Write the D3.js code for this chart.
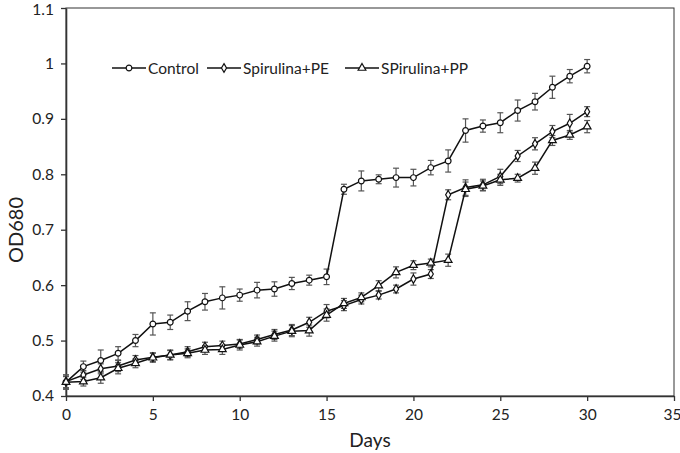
<!DOCTYPE html>
<html><head><meta charset="utf-8">
<script src="https://cdn.jsdelivr.net/npm/d3@7"></script>
<style>body{margin:0;background:#fff;} svg{display:block;}</style>
</head><body>
<svg id="c" width="680" height="453"></svg>
<script>
const days = d3.range(0, 31);
const seriesNames = ["Control", "Spirulina+PE", "SPirulina+PP"];
const control = [0.425,0.453,0.464,0.477,0.500,0.530,0.533,0.553,0.570,0.577,0.582,0.591,0.593,0.603,0.609,0.615,0.773,0.788,0.791,0.794,0.794,0.812,0.824,0.879,0.887,0.893,0.915,0.931,0.957,0.977,0.995];
const controlErr = [0.010,0.010,0.019,0.012,0.011,0.020,0.013,0.017,0.015,0.020,0.011,0.014,0.013,0.011,0.009,0.014,0.009,0.018,0.008,0.017,0.015,0.013,0.020,0.021,0.011,0.018,0.019,0.015,0.020,0.012,0.012];
const pe = [0.426,0.438,0.449,0.454,0.465,0.470,0.474,0.480,0.489,0.491,0.494,0.502,0.511,0.519,0.533,0.553,0.563,0.574,0.582,0.593,0.611,0.620,0.763,0.776,0.781,0.796,0.833,0.855,0.877,0.892,0.913];
const peErr = [0.012,0.008,0.009,0.010,0.008,0.008,0.009,0.009,0.008,0.008,0.008,0.008,0.009,0.010,0.009,0.012,0.009,0.008,0.007,0.007,0.011,0.008,0.009,0.014,0.010,0.013,0.010,0.011,0.011,0.016,0.009];
const pp = [0.425,0.426,0.433,0.450,0.459,0.469,0.474,0.477,0.483,0.484,0.492,0.498,0.508,0.517,0.518,0.546,0.567,0.578,0.599,0.623,0.636,0.640,0.645,0.773,0.779,0.790,0.793,0.811,0.861,0.871,0.886];
const ppErr = [0.013,0.008,0.010,0.010,0.008,0.008,0.008,0.008,0.008,0.009,0.009,0.008,0.009,0.010,0.010,0.011,0.009,0.008,0.009,0.010,0.008,0.007,0.011,0.013,0.009,0.010,0.007,0.011,0.009,0.008,0.011];
const xTicks = [0,5,10,15,20,25,30,35];
const yTicks = [0.4,0.5,0.6,0.7,0.8,0.9,1,1.1];
const markers = ["circle", "diamond", "triangle"];

const FONT = "Lato, 'Open Sans', sans-serif";
const svg = d3.select("#c");
const L = 66, R = 674, T = 8, B = 396;
const x = d3.scaleLinear().domain([0,35]).range([L,R]);
const y = d3.scaleLinear().domain([0.4,1.1]).range([B,T]);

// frame
svg.append("rect").attr("x",L).attr("y",T).attr("width",R-L).attr("height",B-T)
  .attr("fill","none").attr("stroke","#333").attr("stroke-width",1);

const xAxis = svg.append("g").attr("transform",`translate(0,${B})`)
  .call(d3.axisBottom(x).tickValues(xTicks).tickFormat(d3.format("d")).tickSize(5).tickSizeOuter(0));
const yAxis = svg.append("g").attr("transform",`translate(${L},0)`)
  .call(d3.axisLeft(y).tickValues(yTicks).tickFormat(d=>String(+d.toFixed(1))).tickSize(5).tickSizeOuter(0));
[xAxis,yAxis].forEach(g=>{
  g.select(".domain").attr("stroke","#333").attr("stroke-width",1.6);
  g.selectAll(".tick line").attr("stroke","#333").attr("stroke-width",1.3);
  g.selectAll("text").attr("font-family",FONT).attr("font-size",15.5).attr("fill","#222");
});
xAxis.selectAll("text").attr("dy","1.05em");
xAxis.selectAll(".tick").filter(d=>d===35).select("text").attr("x",-2);
yAxis.selectAll("text").attr("x",-12);
yAxis.selectAll(".tick").filter(d=>d===1.1).select("text").attr("y",2);

svg.append("text").attr("x",370).attr("y",447).attr("text-anchor","middle")
  .attr("font-family",FONT).attr("font-size",19).attr("fill","#222").text("Days");
svg.append("text").attr("transform","translate(23,230) rotate(-90)").attr("text-anchor","middle")
  .attr("font-family",FONT).attr("font-size",20).attr("fill","#222").text("OD680");

const data = [
  {name:seriesNames[0], vals:control, err:controlErr, m:markers[0]},
  {name:seriesNames[1], vals:pe, err:peErr, m:markers[1]},
  {name:seriesNames[2], vals:pp, err:ppErr, m:markers[2]}
];

function markerPath(type){
  if(type==="circle") return d3.symbol(d3.symbolCircle, 26)();
  if(type==="diamond") return d3.symbol(d3.symbolDiamond, 22)();
  return d3.symbol(d3.symbolTriangle, 26)();
}

const line = d3.line().x((d,i)=>x(days[i])).y(d=>y(d));

// error bars
data.forEach(s=>{
  const g = svg.append("g").attr("stroke","#555").attr("stroke-width",1.2);
  s.vals.forEach((v,i)=>{
    const cx = x(days[i]), y1 = y(v - s.err[i]), y2 = y(v + s.err[i]);
    g.append("line").attr("x1",cx).attr("x2",cx).attr("y1",y1).attr("y2",y2);
    g.append("line").attr("x1",cx-3).attr("x2",cx+3).attr("y1",y1).attr("y2",y1);
    g.append("line").attr("x1",cx-3).attr("x2",cx+3).attr("y1",y2).attr("y2",y2);
  });
});
data.forEach(s=>{
  svg.append("path").attr("d",line(s.vals)).attr("fill","none").attr("stroke","#111").attr("stroke-width",1.5);
});
data.forEach(s=>{
  svg.append("g").selectAll("path").data(s.vals).join("path")
    .attr("d",markerPath(s.m))
    .attr("transform",(d,i)=>`translate(${x(days[i])},${y(d)})`)
    .attr("fill","#fff").attr("stroke","#111").attr("stroke-width",1.2);
});

// legend
const legX = [112, 207, 345];
data.forEach((s,i)=>{
  const g = svg.append("g").attr("transform",`translate(${legX[i]},68)`);
  g.append("line").attr("x1",0).attr("x2",34).attr("y1",0).attr("y2",0).attr("stroke","#111").attr("stroke-width",1.5);
  g.append("path").attr("d",markerPath(s.m)).attr("transform","translate(17,0)")
    .attr("fill","#fff").attr("stroke","#111").attr("stroke-width",1.2);
  g.append("text").attr("x",36).attr("y",5.5).attr("font-family",FONT).attr("font-size",15.5)
    .attr("fill","#222").text(s.name);
});
</script>
</body></html>
